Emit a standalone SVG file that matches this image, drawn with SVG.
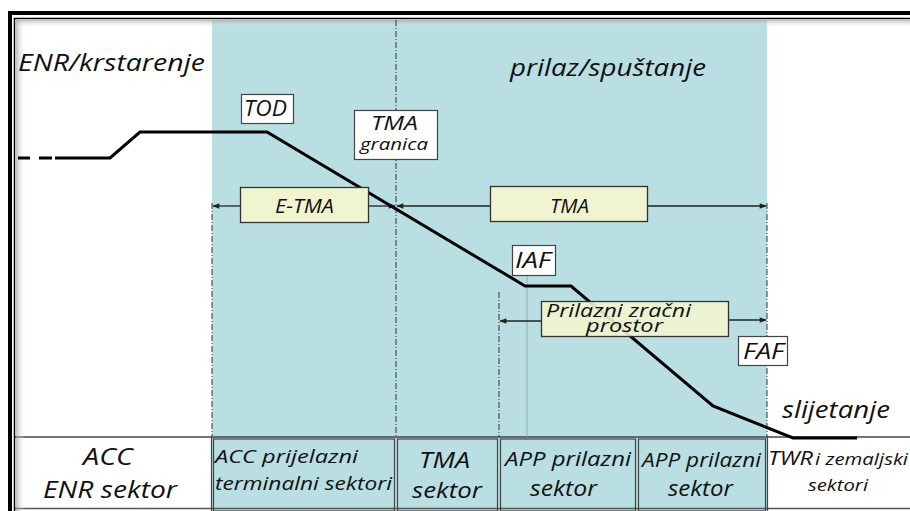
<svg xmlns="http://www.w3.org/2000/svg" width="910" height="511" viewBox="0 0 910 511">
<defs>
<style>
.t{font-family:"Open Sans","Liberation Sans",sans-serif;font-style:italic;fill:#111}
.box{fill:#fff;stroke:#444;stroke-width:1.2}
.ybox{fill:#F1F5CF;stroke:#333;stroke-width:1.3}
.arr{stroke:#222;stroke-width:1.3;fill:none}
.dd{stroke:#333;stroke-width:1;stroke-dasharray:6 2 1 2;fill:none}
.cell{fill:none;stroke:#444;stroke-width:1.2}
.prof{stroke:#000;stroke-width:3;fill:none;stroke-linejoin:miter}
</style>
<marker id="ah" viewBox="0 0 10 10" refX="9" refY="5" markerWidth="9" markerHeight="7" markerUnits="userSpaceOnUse" orient="auto">
<path d="M0,1 L10,5 L0,9 Z" fill="#222"/>
</marker>
<linearGradient id="shL" x1="0" x2="1" y1="0" y2="0">
<stop offset="0" stop-color="#999" stop-opacity="0.6"/>
<stop offset="1" stop-color="#fff" stop-opacity="0"/>
</linearGradient>
<linearGradient id="shT" x1="0" x2="0" y1="0" y2="1">
<stop offset="0" stop-color="#999" stop-opacity="0.6"/>
<stop offset="1" stop-color="#fff" stop-opacity="0"/>
</linearGradient>
</defs>
<rect x="0" y="0" width="910" height="511" fill="#fff"/>
<rect x="212" y="20" width="555" height="417" fill="#B9DFE2"/>
<g id="bottom-row">
<rect x="212" y="437" width="555" height="74" fill="#B9DFE2"/>
<line x1="15" y1="437" x2="910" y2="437" stroke="#444" stroke-width="1.5"/>
<line x1="15" y1="508.5" x2="910" y2="508.5" stroke="#555" stroke-width="1.5"/>
<rect class="cell" x="213.5" y="439" width="181" height="72"/>
<rect class="cell" x="397.5" y="439" width="100" height="72"/>
<rect class="cell" x="500.5" y="439" width="135" height="72"/>
<rect class="cell" x="638.5" y="439" width="127" height="72"/>
<line x1="211.5" y1="437" x2="211.5" y2="511" stroke="#444" stroke-width="1.2"/>
<line x1="767.5" y1="437" x2="767.5" y2="511" stroke="#444" stroke-width="1.2"/>
</g>
<g id="frame">
<rect x="16" y="20" width="10" height="491" fill="url(#shL)"/>
<rect x="16" y="20" width="894" height="8" fill="url(#shT)"/>
<line x1="10" y1="13" x2="910" y2="13" stroke="#000" stroke-width="4"/>
<line x1="10" y1="11" x2="10" y2="511" stroke="#000" stroke-width="4"/>
<line x1="14.5" y1="18.5" x2="910" y2="18.5" stroke="#000" stroke-width="1.5"/>
<line x1="14.5" y1="18" x2="14.5" y2="511" stroke="#000" stroke-width="1.5"/>
</g>
<g id="connectors">
<line class="dd" x1="212" y1="203" x2="212" y2="437"/>
<line class="dd" x1="396" y1="20" x2="396" y2="437"/>
<line class="dd" x1="499" y1="292" x2="499" y2="437"/>
<line class="dd" x1="767" y1="203" x2="767" y2="437"/>
<line x1="527" y1="276" x2="527" y2="437" stroke="#9ab" stroke-width="1"/>
<line class="arr" x1="240" y1="206" x2="213" y2="206" marker-end="url(#ah)"/>
<line class="arr" x1="368" y1="206" x2="395" y2="206" marker-end="url(#ah)"/>
<line class="arr" x1="490" y1="206" x2="397" y2="206" marker-end="url(#ah)"/>
<line class="arr" x1="647" y1="206" x2="766" y2="206" marker-end="url(#ah)"/>
<line class="arr" x1="541" y1="321" x2="500" y2="321" marker-end="url(#ah)"/>
<line class="arr" x1="728" y1="320" x2="766" y2="320" marker-end="url(#ah)"/>
</g>
<g id="profile">
<line x1="18" y1="158" x2="30" y2="158" stroke="#000" stroke-width="3"/>
<line x1="39" y1="158" x2="52" y2="158" stroke="#000" stroke-width="3"/>
<polyline class="prof" points="55,158 110,158 140,132 267,132 525,286 571,286 713,406 793,438 857,438"/>
</g>
<g id="lbl-enr"><text class="t" x="18" y="71" font-size="24" textLength="187" lengthAdjust="spacingAndGlyphs">ENR/krstarenje</text></g>
<g id="lbl-prilaz"><text class="t" x="510" y="76" font-size="24" textLength="196" lengthAdjust="spacingAndGlyphs">prilaz/spuštanje</text></g>
<g id="lbl-slijetanje"><text class="t" x="782" y="418" font-size="24" textLength="108" lengthAdjust="spacingAndGlyphs">slijetanje</text></g>
<g id="node-tod"><rect class="box" x="241.5" y="94.5" width="52" height="29"/><text class="t" x="244" y="116" font-size="21" textLength="43" lengthAdjust="spacingAndGlyphs">TOD</text></g>
<g id="node-tma-granica"><rect class="box" x="354.5" y="110.5" width="83" height="49"/><text class="t" x="371" y="130" font-size="20" textLength="47" lengthAdjust="spacingAndGlyphs">TMA</text><text class="t" x="360" y="150" font-size="16" textLength="68" lengthAdjust="spacingAndGlyphs">granica</text></g>
<g id="node-etma"><rect class="ybox" x="240.5" y="187.5" width="128" height="35"/><text class="t" x="275" y="213" font-size="20" textLength="59" lengthAdjust="spacingAndGlyphs">E-TMA</text></g>
<g id="node-tma"><rect class="ybox" x="490.5" y="186.5" width="157" height="35"/><text class="t" x="550" y="213" font-size="20" textLength="39" lengthAdjust="spacingAndGlyphs">TMA</text></g>
<g id="node-iaf"><rect class="box" x="512.5" y="245.5" width="43" height="30"/><text class="t" x="515" y="268" font-size="22" textLength="36" lengthAdjust="spacingAndGlyphs">IAF</text></g>
<g id="node-prilazni"><rect class="ybox" x="541.5" y="301.5" width="187" height="35" fill-opacity="0.9"/><text class="t" x="546" y="317" font-size="18" textLength="145" lengthAdjust="spacingAndGlyphs">Prilazni zračni</text><text class="t" x="586" y="332" font-size="18" textLength="77" lengthAdjust="spacingAndGlyphs">prostor</text></g>
<g id="node-faf"><rect class="box" x="738.5" y="336.5" width="49" height="29"/><text class="t" x="743" y="359" font-size="22" textLength="41" lengthAdjust="spacingAndGlyphs">FAF</text></g>
<g id="cell-acc-enr"><text class="t" x="83" y="465" font-size="23" textLength="50" lengthAdjust="spacingAndGlyphs">ACC</text><text class="t" x="43" y="498" font-size="23" textLength="134" lengthAdjust="spacingAndGlyphs">ENR sektor</text></g>
<g id="cell-acc-prij"><text class="t" x="215" y="463" font-size="19" textLength="143" lengthAdjust="spacingAndGlyphs">ACC prijelazni</text><text class="t" x="215" y="490" font-size="19" textLength="177" lengthAdjust="spacingAndGlyphs">terminalni sektori</text></g>
<g id="cell-tma"><text class="t" x="419" y="468" font-size="21" textLength="51" lengthAdjust="spacingAndGlyphs">TMA</text><text class="t" x="412" y="498" font-size="21" textLength="70" lengthAdjust="spacingAndGlyphs">sektor</text></g>
<g id="cell-app1"><text class="t" x="505" y="466" font-size="20" textLength="126" lengthAdjust="spacingAndGlyphs">APP prilazni</text><text class="t" x="530" y="496" font-size="21" textLength="67" lengthAdjust="spacingAndGlyphs">sektor</text></g>
<g id="cell-app2"><text class="t" x="642" y="467" font-size="20" textLength="119" lengthAdjust="spacingAndGlyphs">APP prilazni</text><text class="t" x="668" y="496" font-size="21" textLength="65" lengthAdjust="spacingAndGlyphs">sektor</text></g>
<g id="cell-twr"><text class="t" x="768" y="465" font-size="20" textLength="45" lengthAdjust="spacingAndGlyphs">TWR</text><text class="t" x="815" y="465" font-size="16" textLength="93" lengthAdjust="spacingAndGlyphs">i zemaljski</text><text class="t" x="808" y="491" font-size="16" textLength="60" lengthAdjust="spacingAndGlyphs">sektori</text></g>
</svg>
